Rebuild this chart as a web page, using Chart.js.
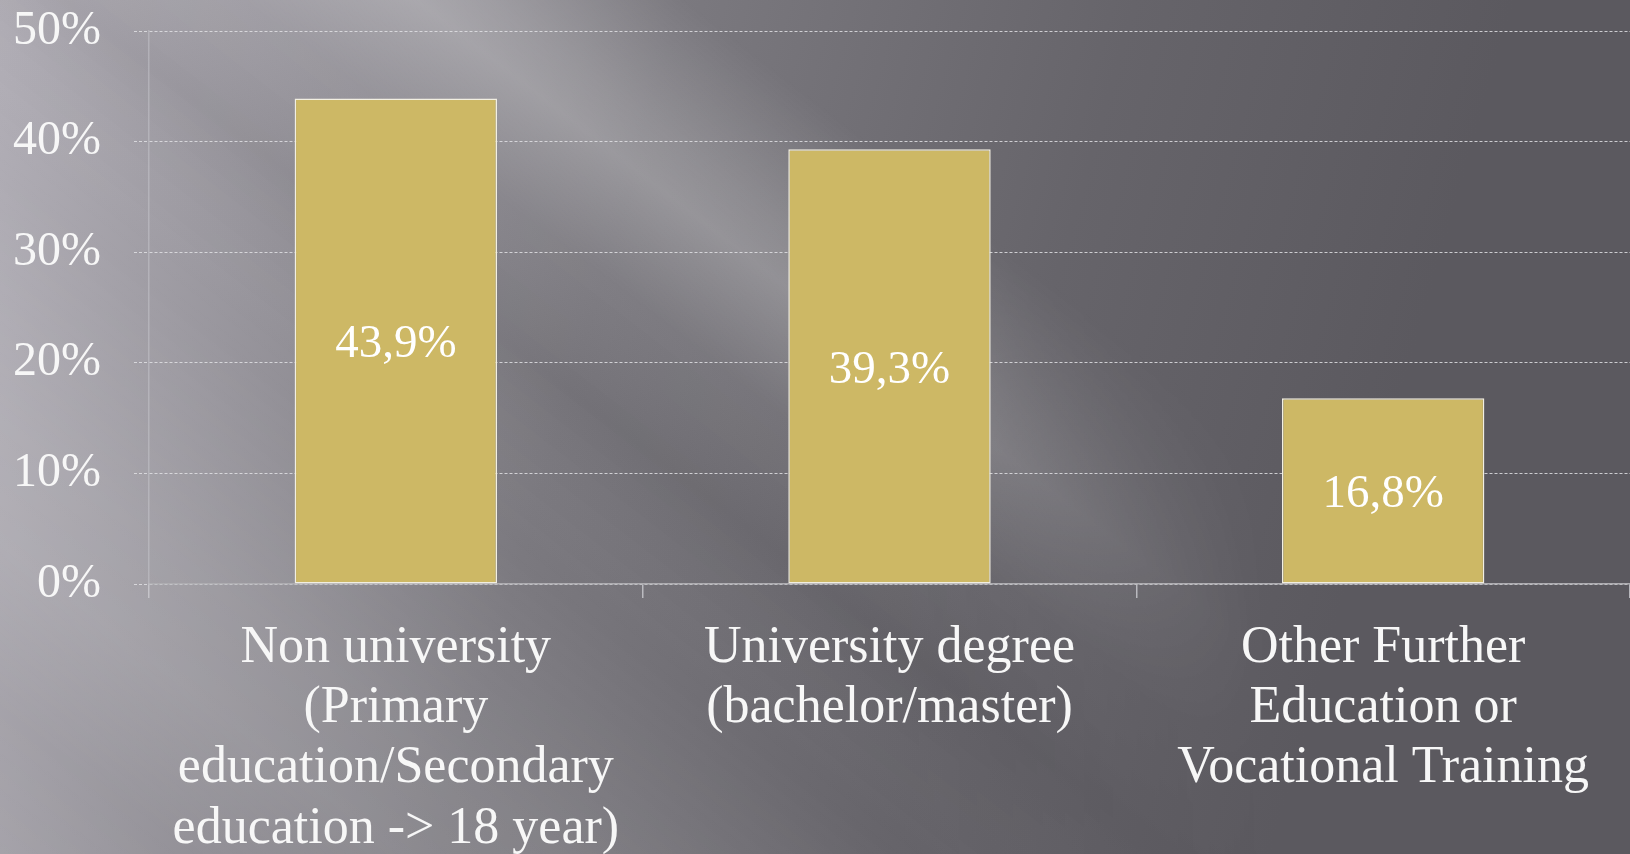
<!DOCTYPE html>
<html>
<head>
<meta charset="utf-8">
<script src="https://cdn.jsdelivr.net/npm/chart.js@4.4.1/dist/chart.umd.min.js"></script>
<style>
  html, body { margin: 0; padding: 0; background: #6a686e; overflow: hidden; }
  canvas { display: block; }
</style>
</head>
<body>
<canvas id="c" width="1630" height="854"></canvas>
<script>
// ---- data ----
const categories = [
  ["Non university", "(Primary", "education/Secondary", "education -> 18 year)"],
  ["University degree", "(bachelor/master)"],
  ["Other Further", "Education or", "Vocational Training"]
];
const values = [43.9, 39.3, 16.8];
const yMin = 0;
const yMax = 50;
const yStep = 10;

const FONT = "'Liberation Serif', 'Times New Roman', serif";

const bgPlugin = {
  id: 'bg',
  beforeDraw(chart) {
    const ctx = chart.ctx;
    const W = chart.width, H = chart.height;
    ctx.save();
    let g = ctx.createLinearGradient(0, 0, 1400, 400);
    g.addColorStop(0, '#b3b0b8');
    g.addColorStop(0.45, '#7b797f');
    g.addColorStop(0.75, '#66646a');
    g.addColorStop(1, '#5b595f');
    ctx.fillStyle = g;
    ctx.fillRect(0, 0, W, H);
    const off = document.createElement('canvas');
    off.width = W; off.height = H;
    const o = off.getContext('2d');
    const nx = -0.612, ny = 0.791;
    const s0 = -1000, s1 = 700;
    const g2 = o.createLinearGradient(s0 * nx, s0 * ny, s1 * nx, s1 * ny);
    const st = s => (s - s0) / (s1 - s0);
    g2.addColorStop(st(-1000), 'rgba(255,255,255,0)');
    g2.addColorStop(st(-420), 'rgba(255,255,255,0)');
    g2.addColorStop(st(-300), 'rgba(255,255,255,0.18)');
    g2.addColorStop(st(-255), 'rgba(255,255,255,0.23)');
    g2.addColorStop(st(-150), 'rgba(255,255,255,0.04)');
    g2.addColorStop(st(-40), 'rgba(0,0,0,0.05)');
    g2.addColorStop(st(120), 'rgba(255,255,255,0.0)');
    g2.addColorStop(st(330), 'rgba(255,255,255,0.10)');
    g2.addColorStop(st(430), 'rgba(255,255,255,0.12)');
    g2.addColorStop(st(560), 'rgba(255,255,255,0.04)');
    g2.addColorStop(st(700), 'rgba(255,255,255,0.08)');
    o.fillStyle = g2;
    o.fillRect(0, 0, W, H);
    o.globalCompositeOperation = 'destination-in';
    const fade = o.createLinearGradient(0, 0, W, 0);
    fade.addColorStop(0, 'rgba(0,0,0,1)');
    fade.addColorStop(0.55, 'rgba(0,0,0,1)');
    fade.addColorStop(0.78, 'rgba(0,0,0,0)');
    fade.addColorStop(1, 'rgba(0,0,0,0)');
    o.fillStyle = fade;
    o.fillRect(0, 0, W, H);
    ctx.drawImage(off, 0, 0);
    ctx.restore();
  }
};

const labelPlugin = {
  id: 'barLabels',
  afterDatasetsDraw(chart) {
    const ctx = chart.ctx;
    const meta = chart.getDatasetMeta(0);
    ctx.save();
    ctx.font = '47px ' + FONT;
    ctx.fillStyle = '#ffffff';
    ctx.textAlign = 'center';
    ctx.textBaseline = 'middle';
    meta.data.forEach((bar, i) => {
      const v = chart.data.datasets[0].data[i];
      const txt = v.toFixed(1).replace('.', ',') + '%';
      ctx.fillText(txt, bar.x, (bar.y + bar.base) / 2 + 4);
    });
    ctx.restore();
  }
};

new Chart(document.getElementById('c'), {
  type: 'bar',
  data: {
    labels: categories,
    datasets: [{
      data: values,
      backgroundColor: '#cdb865',
      borderColor: '#f2efe2',
      borderWidth: 1.5,
      borderSkipped: false,
      categoryPercentage: 1,
      barPercentage: 0.41
    }]
  },
  options: {
    responsive: false,
    animation: false,
    devicePixelRatio: 1,
    layout: { padding: { top: 31, right: 0, bottom: 0, left: 0 } },
    plugins: { legend: { display: false }, tooltip: { enabled: false } },
    scales: {
      x: {
        afterFit: s => { s.height = 270; s.paddingLeft = 0; s.paddingRight = 0; },
        grid: {
          offset: true,
          drawOnChartArea: false,
          drawTicks: true,
          tickLength: 14,
          color: 'rgba(205,205,210,0.8)',
          lineWidth: 1.5
        },
        border: { display: true, color: '#aeadb1', width: 1.5 },
        ticks: {
          color: '#f7f7f7',
          font: { family: FONT, size: 52, lineHeight: 1.16 },
          padding: 20,
          autoSkip: false,
          maxRotation: 0,
          minRotation: 0
        }
      },
      y: {
        min: yMin,
        max: yMax,
        afterFit: s => { s.width = 149; s.paddingTop = 0; s.paddingBottom = 0; },
        grid: {
          color: 'rgba(225,225,228,0.85)',
          lineWidth: 1,
          tickLength: 15,
          tickBorderDash: [3, 2]
        },
        border: { display: true, color: 'rgba(205,205,210,0.45)', width: 1.5, dash: [3, 2] },
        ticks: {
          stepSize: yStep,
          color: '#f7f7f7',
          font: { family: FONT, size: 48 },
          padding: 33,
          callback: v => v + '%'
        }
      }
    }
  },
  plugins: [bgPlugin, labelPlugin]
});
</script>
</body>
</html>
